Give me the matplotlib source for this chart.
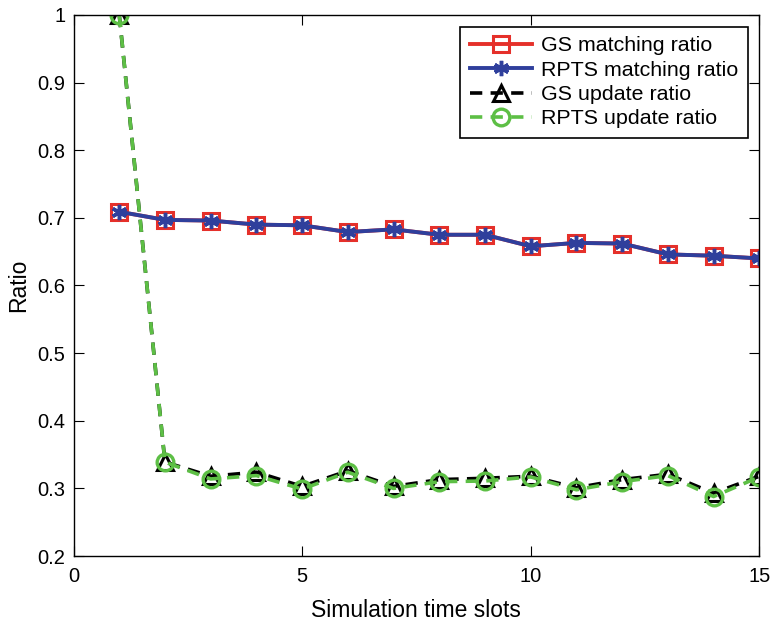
import matplotlib.pyplot as plt
import numpy as np

plt.rcParams['font.family'] = ['Liberation Sans', 'DejaVu Sans']

slots = np.arange(1, 16)
gs_match = [0.709, 0.697, 0.696, 0.690, 0.689, 0.679, 0.683, 0.675, 0.675,
            0.658, 0.663, 0.662, 0.646, 0.644, 0.640]
rpts_match = [0.709, 0.697, 0.696, 0.690, 0.689, 0.679, 0.683, 0.675, 0.675,
              0.658, 0.663, 0.662, 0.646, 0.644, 0.640]
gs_update = [1.0, 0.339, 0.318, 0.324, 0.303, 0.326, 0.303, 0.313, 0.315,
             0.318, 0.301, 0.313, 0.321, 0.293, 0.318]
rpts_update = [1.0, 0.339, 0.314, 0.319, 0.299, 0.324, 0.300, 0.310, 0.311,
               0.317, 0.298, 0.310, 0.319, 0.288, 0.317]

red = '#e5302a'
blue = '#2f3f9c'
green = '#5dbf45'
dash = (0, (3.4, 2.3))

fig = plt.figure(figsize=(7.74, 6.22), dpi=100)
ax = fig.add_axes([0.095, 0.106, 0.886, 0.870])

ax.plot(slots, gs_match, color=red, lw=2.8, marker='s', ms=11, mfc='none',
        mec=red, mew=2.2, label='GS matching ratio')
ax.plot(slots, rpts_match, color=blue, lw=2.8, marker=(6, 2, 0), ms=11,
        mec=blue, mew=2.5, label='RPTS matching ratio')
ax.plot(slots, gs_update, color='black', lw=2.6, ls=dash, marker='^',
        ms=12, mfc='none', mec='black', mew=2.2, label='GS update ratio')
ax.plot(slots, rpts_update, color=green, lw=2.6, ls=dash, marker='o',
        ms=12, mfc='none', mec=green, mew=2.4, label='RPTS update ratio')

ax.set_xlim(0, 15)
ax.set_ylim(0.2, 1.0)
ax.set_xticks([0, 5, 10, 15])
ax.set_yticks(np.arange(0.2, 1.01, 0.1))
ax.set_yticklabels(['0.2', '0.3', '0.4', '0.5', '0.6', '0.7', '0.8', '0.9', '1'])
ax.tick_params(direction='in', top=True, right=True, labelsize=14.5, length=7)
ax.tick_params(axis='y', pad=6)
ax.tick_params(axis='x', pad=8)
for s in ax.spines.values():
    s.set_linewidth(1.0)

ax.set_xlabel('Simulation time slots', fontsize=16.5, labelpad=9)
ax.set_ylabel('Ratio', fontsize=16.5, labelpad=5)

leg = ax.legend(loc='upper right', fontsize=15.4, handlelength=2.9,
                numpoints=1, fancybox=False, edgecolor='black', framealpha=1,
                borderaxespad=0.55, labelspacing=0.25, handletextpad=0.4,
                borderpad=0.45)
leg.get_frame().set_linewidth(1.2)

fig.savefig('out.png', dpi=100)
